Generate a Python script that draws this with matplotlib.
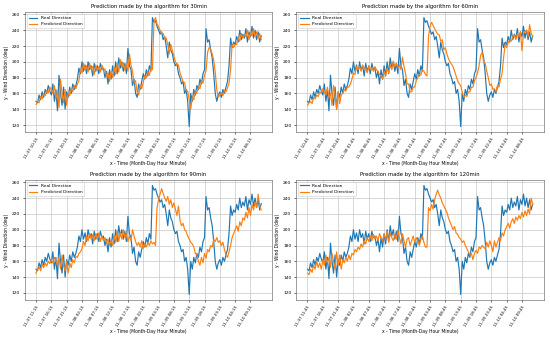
import matplotlib
matplotlib.use("Agg")
import matplotlib.pyplot as plt

# wind direction, one sample every 30 min
real = [150, 148, 158, 152, 162, 155, 165, 160, 170, 163,
        158, 172, 150, 165, 138, 183, 160, 145, 168, 140,
        162, 155, 168, 160, 172, 165, 170, 178, 192, 185,
        200, 188, 196, 185, 200, 190, 195, 182, 198, 188,
        195, 185, 198, 190, 192, 180, 188, 172, 190, 178,
        195, 182, 200, 185, 205, 192, 200, 188, 198, 185,
        217, 195, 190, 170, 178, 160, 155, 172, 165, 175,
        185, 178, 190, 182, 195, 188, 256, 250, 252, 245,
        240, 235, 238, 228, 232, 220, 205, 225, 215, 210,
        200, 195, 198, 185, 180, 172, 175, 160, 165, 150,
        118, 160, 150, 165, 158, 170, 165, 178, 172, 185,
        190, 242, 225, 228, 215, 205, 185, 160, 150, 158,
        162, 155, 165, 160, 168, 175, 195, 230, 218, 225,
        222, 232, 225, 240, 228, 235, 230, 242, 225, 238,
        232, 245, 230, 240, 228, 238, 225, 233]

pred_30 = [146, 150, 148, 156, 153, 160, 157, 163, 161, 168,
           164, 160, 170, 153, 163, 142, 178, 160, 148, 165,
           145, 160, 157, 166, 162, 170, 166, 172, 176, 190,
           186, 198, 190, 195, 187, 198, 191, 194, 184, 196,
           189, 194, 187, 196, 190, 191, 182, 186, 175, 188,
           180, 193, 184, 198, 187, 203, 193, 199, 189, 196,
           188, 210, 196, 188, 173, 176, 162, 158, 170, 166,
           174, 183, 180, 188, 183, 192, 190, 250, 256, 248,
           244, 240, 236, 236, 230, 230, 222, 210, 222, 214,
           208, 200, 196, 196, 186, 181, 174, 174, 163, 163,
           152, 140, 155, 152, 163, 160, 168, 166, 176, 173,
           183, 189, 212, 218, 216, 210, 202, 187, 165, 155,
           158, 161, 157, 164, 162, 167, 173, 190, 222, 218,
           222, 222, 230, 226, 236, 230, 234, 232, 240, 228,
           236, 233, 242, 232, 238, 230, 236, 228]

pred_60 = [145, 148, 150, 147, 155, 153, 158, 156, 162, 160,
           166, 162, 158, 168, 155, 160, 145, 170, 158, 140,
           162, 147, 158, 160, 165, 163, 168, 168, 172, 178,
           186, 184, 194, 190, 194, 188, 196, 192, 192, 186,
           194, 190, 192, 188, 194, 190, 188, 184, 182, 178,
           188, 182, 192, 186, 196, 190, 201, 194, 198, 192,
           196, 190, 206, 194, 185, 172, 172, 162, 162, 168,
           168, 176, 180, 184, 183, 190, 188, 184, 182, 232,
           245, 250, 246, 242, 238, 235, 234, 226, 228, 215,
           218, 210, 204, 200, 197, 194, 188, 182, 176, 172,
           170, 162, 155, 158, 156, 162, 162, 168, 168, 176,
           180, 186, 195, 208, 212, 200, 198, 188, 180, 170,
           172, 165, 166, 162, 170, 168, 178, 185, 205, 222,
           218, 224, 228, 226, 232, 234, 228, 236, 232, 238,
           214, 236, 238, 240, 232, 247, 236, 232]

pred_90 = [145, 150, 153, 148, 156, 152, 158, 154, 160, 157,
           162, 158, 165, 160, 155, 165, 150, 168, 155, 148,
           160, 145, 158, 152, 162, 158, 166, 165, 170, 172,
           176, 185, 180, 192, 186, 195, 188, 194, 186, 195,
           188, 196, 185, 192, 186, 190, 184, 188, 180, 186,
           180, 192, 184, 198, 185, 196, 188, 200, 190, 194,
           185, 192, 186, 200, 192, 185, 180, 184, 178, 186,
           176, 182, 178, 184, 180, 186, 182, 184, 180, 228,
           238, 245, 252, 246, 240, 236, 242, 232, 238, 228,
           234, 226, 218, 230, 212, 205, 208, 200, 198, 192,
           188, 184, 182, 178, 170, 168, 160, 155, 165, 158,
           170, 164, 175, 172, 180, 178, 188, 185, 190, 184,
           186, 180, 184, 175, 168, 165, 172, 180, 190, 195,
           200, 205, 198, 210, 205, 215, 212, 222, 215, 228,
           218, 232, 225, 235, 228, 245, 230, 225]

pred_120 = [145, 143, 150, 146, 155, 150, 160, 152, 158, 150,
            162, 155, 168, 158, 165, 152, 170, 160, 150, 172,
            155, 168, 150, 162, 158, 165, 160, 168, 162, 170,
            168, 175, 172, 178, 175, 182, 178, 186, 182, 190,
            185, 192, 186, 194, 188, 192, 186, 195, 190, 186,
            194, 188, 198, 184, 196, 190, 186, 194, 188, 200,
            190, 182, 195, 186, 178, 188, 190, 180, 186, 192,
            184, 190, 186, 180, 188, 192, 184, 178, 178, 228,
            224, 232, 226, 238, 245, 250, 244, 240, 234, 230,
            226, 222, 215, 210, 205, 200, 204, 196, 194, 190,
            188, 184, 186, 180, 176, 172, 168, 170, 162, 170,
            174, 170, 178, 176, 180, 178, 176, 184, 178, 186,
            180, 172, 186, 178, 184, 190, 186, 196, 192, 200,
            204, 208, 202, 210, 214, 208, 216, 212, 218, 214,
            222, 216, 224, 218, 226, 220, 240, 232]

horizons = ["30min", "60min", "90min", "120min"]
preds = [pred_30, pred_60, pred_90, pred_120]

tick_labels = {
    "30min": ["11-07 10:15", "11-07 15:15", "11-07 20:15", "11-08 01:15", "11-08 06:15",
              "11-08 11:15", "11-08 16:15", "11-08 21:15", "11-09 02:15", "11-09 07:15",
              "11-09 12:15", "11-09 17:15", "11-09 22:15", "11-10 03:15", "11-10 08:15"],
    "60min": ["11-07 10:45", "11-07 15:45", "11-07 20:45", "11-08 01:45", "11-08 06:45",
              "11-08 11:45", "11-08 16:45", "11-08 21:45", "11-09 02:45", "11-09 07:45",
              "11-09 12:45", "11-09 17:45", "11-09 22:45", "11-10 03:45", "11-10 08:45"],
    "90min": ["11-07 11:15", "11-07 16:15", "11-07 21:15", "11-08 02:15", "11-08 07:15",
              "11-08 12:15", "11-08 17:15", "11-08 22:15", "11-09 03:15", "11-09 08:15",
              "11-09 13:15", "11-09 18:15", "11-09 23:15", "11-10 04:15", "11-10 09:15"],
    "120min": ["11-07 11:45", "11-07 16:45", "11-07 21:45", "11-08 02:45", "11-08 07:45",
               "11-08 12:45", "11-08 17:45", "11-08 22:45", "11-09 03:45", "11-09 08:45",
               "11-09 13:45", "11-09 18:45", "11-09 23:45", "11-10 04:45", "11-10 09:45"],
}

fig, axes = plt.subplots(2, 2, figsize=(11, 6.74), dpi=50)
fig.subplots_adjust(left=0.045, right=0.989, top=0.964, bottom=0.11,
                    wspace=0.096, hspace=0.40)

x = list(range(len(real)))
for ax, h, p in zip(axes.flat, horizons, preds):
    ax.plot(x, real, label="Real Direction", lw=1.7)
    ax.plot(x, p, label="Predicted Direction", lw=1.7)
    ax.set_title("Prediction made by the algorithm for " + h, fontsize=7.5)
    ax.set_xlabel("x - Time (Month-Day Hour Minute)", fontsize=6.5, labelpad=2)
    ax.set_ylabel("y - Wind Direction (deg)", fontsize=6.5)
    ax.set_xticks(range(0, len(real), 10))
    ax.set_xticklabels(tick_labels[h], rotation=58, ha="right",
                       rotation_mode="anchor", fontsize=5.8)
    ax.tick_params(axis="y", labelsize=6.3)
    ax.set_yticks(range(120, 261, 20))
    ax.grid(True, lw=1, color="#c8c8c8")
    for s in ax.spines.values():
        s.set_color("#555555")
    ax.legend(loc="upper left", fontsize=6.3)

fig.savefig("out.png", dpi=50)
